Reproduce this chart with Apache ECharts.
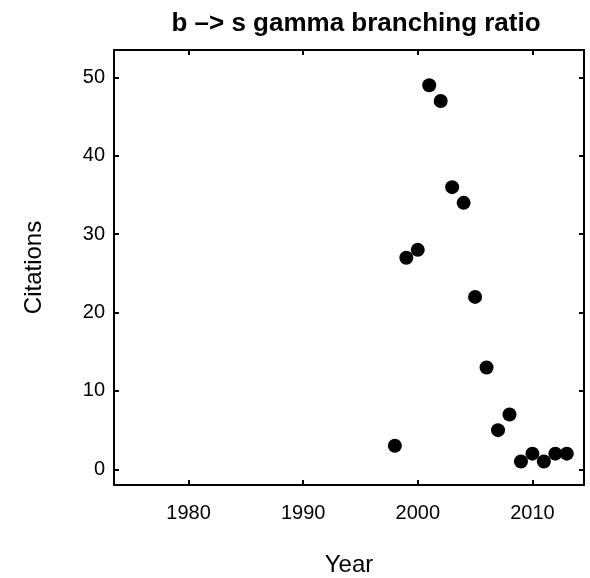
<!DOCTYPE html>
<html>
<head>
<meta charset="utf-8">
<script src="https://cdn.jsdelivr.net/npm/echarts@6/dist/echarts.min.js"></script>
<style>
  html, body { margin: 0; padding: 0; background: #fff; }
  #chart { width: 590px; height: 578px; }
</style>
</head>
<body>
<div id="chart"></div>
<script>
// citations per year
var years = [1998, 1999, 2000, 2001, 2002, 2003, 2004, 2005, 2006, 2007, 2008, 2009, 2010, 2011, 2012, 2013];
var citations = [3, 27, 28, 49, 47, 36, 34, 22, 13, 5, 7, 1, 2, 1, 2, 2];
var xTicks = [1980, 1990, 2000, 2010];
var yTicks = [0, 10, 20, 30, 40, 50];

var points = [];
for (var i = 0; i < years.length; i++) {
    points.push([years[i], citations[i]]);
}

var font = 'Liberation Sans, Arial, Helvetica, sans-serif';
var lineStyle = { color: '#000', width: 2 };

var chart = echarts.init(document.getElementById('chart'));
var option = {
    animation: false,
    title: {
        text: 'b \u2013> s gamma branching ratio',
        left: 351,
        textAlign: 'center',
        top: 6,
        textStyle: { fontFamily: font, fontSize: 26, fontWeight: 'bold', color: '#000' }
    },
    grid: { left: 114, right: 6, top: 50, bottom: 93, outerBoundsMode: 'none' },
    xAxis: [
        {
            type: 'value', min: 1973.5, max: 2014.5, position: 'bottom',
            name: 'Year', nameLocation: 'middle', nameGap: 68,
            nameTextStyle: { fontFamily: font, fontSize: 24, color: '#000' },
            axisLine: { show: true, onZero: false, lineStyle: lineStyle },
            axisTick: { show: true, inside: true, length: 5, lineStyle: lineStyle, customValues: xTicks },
            axisLabel: {
                fontFamily: font, fontSize: 20, color: '#000', margin: 18, customValues: xTicks,
                formatter: function (v) { return String(v); }
            },
            splitLine: { show: false }
        },
        {
            type: 'value', min: 1973.5, max: 2014.5, position: 'top',
            axisLine: { show: true, onZero: false, lineStyle: lineStyle },
            axisTick: { show: true, inside: true, length: 5, lineStyle: lineStyle, customValues: xTicks },
            axisLabel: { show: false },
            splitLine: { show: false }
        }
    ],
    yAxis: [
        {
            type: 'value', min: -2, max: 53.5, position: 'left',
            name: 'Citations', nameLocation: 'middle', nameGap: 68,
            nameTextStyle: { fontFamily: font, fontSize: 24, color: '#000' },
            axisLine: { show: true, onZero: false, lineStyle: lineStyle },
            axisTick: { show: true, inside: true, length: 5, lineStyle: lineStyle, customValues: yTicks },
            axisLabel: { fontFamily: font, fontSize: 20, color: '#000', margin: 9, customValues: yTicks },
            splitLine: { show: false }
        },
        {
            type: 'value', min: -2, max: 53.5, position: 'right',
            axisLine: { show: true, onZero: false, lineStyle: lineStyle },
            axisTick: { show: true, inside: true, length: 5, lineStyle: lineStyle, customValues: yTicks },
            axisLabel: { show: false },
            splitLine: { show: false }
        }
    ],
    series: [
        {
            type: 'scatter',
            xAxisIndex: 0,
            yAxisIndex: 0,
            symbol: 'circle',
            symbolSize: 14,
            itemStyle: { color: '#000', opacity: 1 },
            data: points
        }
    ]
};
chart.setOption(option);
</script>
</body>
</html>
